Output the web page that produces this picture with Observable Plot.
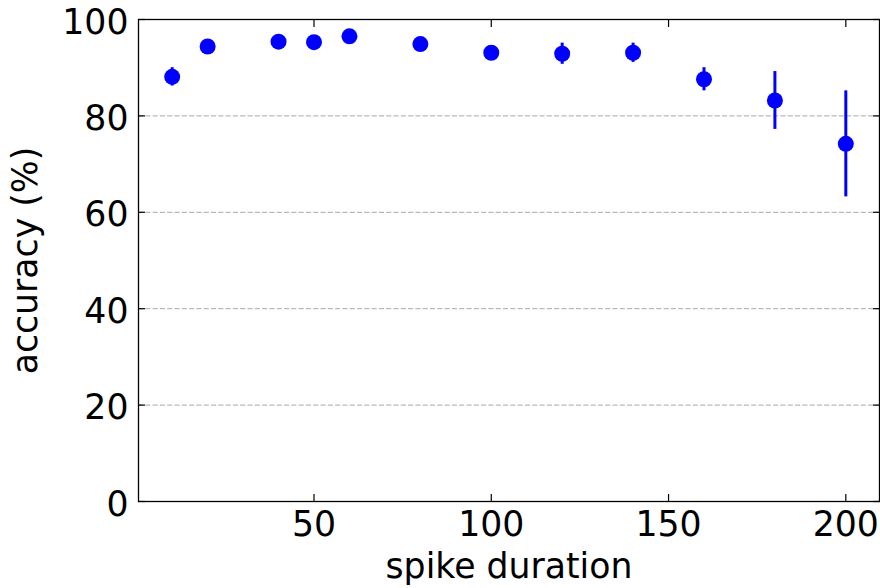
<!DOCTYPE html>
<html>
<head>
<meta charset="utf-8">
<script src="https://cdn.jsdelivr.net/npm/d3@7"></script>
<script src="https://cdn.jsdelivr.net/npm/@observablehq/plot@0.6"></script>
<style>
  html, body { margin: 0; padding: 0; background: #fff; }
  #chart { width: 880px; height: 588px; }
</style>
</head>
<body>
<div id="chart"></div>
<script>
const durations = [10, 20, 40, 50, 60, 80, 100, 120, 140, 160, 180, 200];
const accuracy  = [88.1, 94.4, 95.4, 95.3, 96.5, 94.9, 93.1, 92.9, 93.1, 87.6, 83.2, 74.2];
const errors    = [1.9, 1.0, 0.8, 0.9, 0.9, 1.0, 1.1, 2.2, 2.0, 2.4, 6.0, 11.0];
const xTicks = [50, 100, 150, 200];
const yTicks = [0, 20, 40, 60, 80, 100];
const xLabel = "spike duration";
const yLabel = "accuracy (%)";

const rows = durations.map((d, i) => ({
  x: d, y: accuracy[i], lo: accuracy[i] - errors[i], hi: accuracy[i] + errors[i]
}));

const FS = 34.7;
const chart = Plot.plot({
  width: 880,
  height: 588,
  marginLeft: 138,
  marginRight: 1,
  marginTop: 19,
  marginBottom: 87,
  style: { fontFamily: "DejaVu Sans", fontSize: FS + "px", background: "#fff", color: "#000" },
  x: { domain: [0.5, 209.5] },
  y: { domain: [0, 100] },
  marks: [
    Plot.gridY(yTicks, { stroke: "#a8a8a8", strokeOpacity: 1, strokeWidth: 1, strokeDasharray: "5.1,2.2" }),
    Plot.ruleX(rows, { x: "x", y1: "lo", y2: "hi", stroke: "#0000ff", strokeWidth: 3 }),
    Plot.dot(rows, { x: "x", y: "y", r: 8, fill: "#0000ff", stroke: "none" }),
    // inward ticks on all four sides
    Plot.axisX(xTicks, { anchor: "bottom", tickSize: -7, fill: "none", stroke: "#000", strokeWidth: 1.2, label: null }),
    Plot.axisX(xTicks, { anchor: "top", tickSize: -7, fill: "none", stroke: "#000", strokeWidth: 1.2, label: null }),
    Plot.axisY(yTicks, { anchor: "left", tickSize: -7, fill: "none", stroke: "#000", strokeWidth: 1.2, label: null }),
    Plot.axisY(yTicks, { anchor: "right", tickSize: -7, fill: "none", stroke: "#000", strokeWidth: 1.2, label: null }),
    // tick labels
    Plot.axisX(xTicks, { anchor: "bottom", tickSize: 0, tickPadding: 10, stroke: "none", fill: "#000", fontSize: FS, label: null }),
    Plot.axisY(yTicks, { anchor: "left", tickSize: 0, tickPadding: 10, stroke: "none", fill: "#000", fontSize: FS, dy: 3, label: null }),
    // axis titles
    Plot.text([xLabel], { text: d => d, frameAnchor: "bottom", dy: 65, lineAnchor: "middle", fontSize: FS, fill: "#000" }),
    Plot.text([yLabel], { text: d => d, frameAnchor: "left", dx: -113, rotate: -90, lineAnchor: "middle", textAnchor: "middle", fontSize: FS, fill: "#000" }),
    Plot.frame({ stroke: "#000", strokeWidth: 1.3 })
  ]
});
document.getElementById("chart").appendChild(chart);
</script>
</body>
</html>
